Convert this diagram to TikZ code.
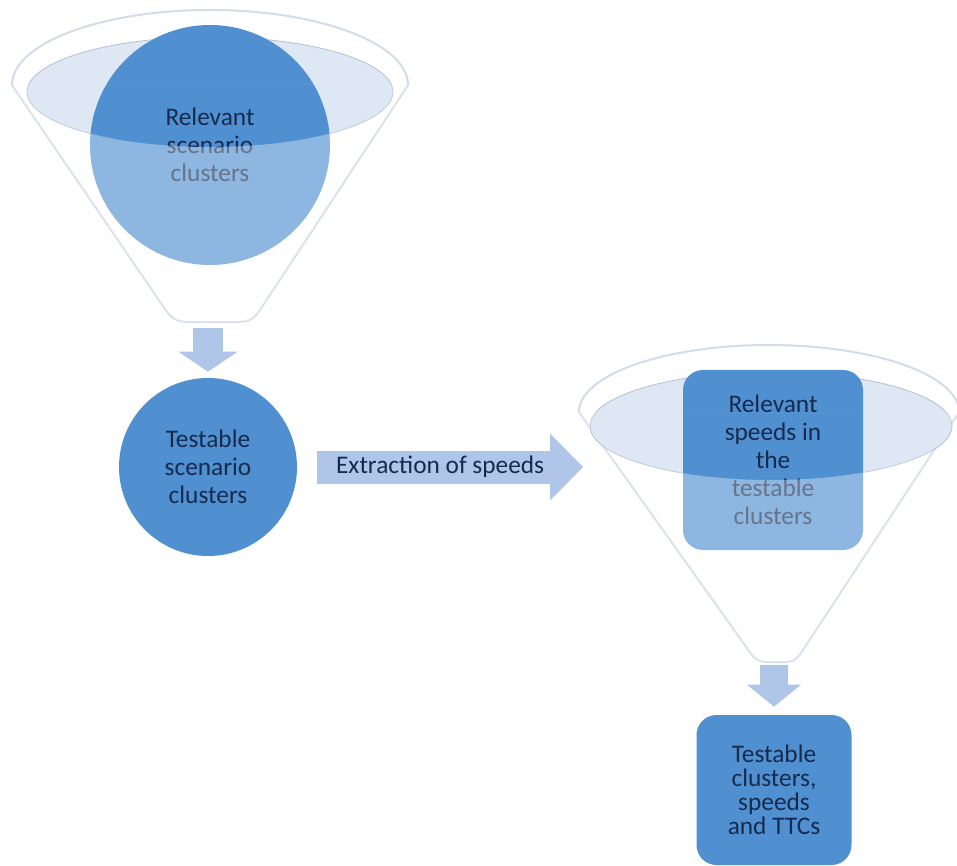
\documentclass[tikz,border=0pt]{standalone}
\usepackage{fontspec}
\setmainfont{Carlito}
\usetikzlibrary{arrows.meta}

\definecolor{clusterblue}{RGB}{80,144,208}
\definecolor{flowblue}{RGB}{176,198,232}
\definecolor{rimline}{RGB}{212,220,232}
\definecolor{mouthfill}{RGB}{222,232,245}
\definecolor{mouthline}{RGB}{180,192,210}
\definecolor{labeltext}{RGB}{22,42,78}

\begin{document}
\begin{tikzpicture}[
        x = 0.75pt, y = -0.75pt,
        stagebox/.style = {
            fill       = clusterblue,
            text       = labeltext,
            align      = center,
            inner sep  = 0pt,
            font       = \fontsize{19}{21}\selectfont
        },
        stagecircle/.style = {stagebox, circle},
        stagerect/.style   = {stagebox, rectangle, rounded corners = 15pt},
        funnelrim/.style   = {fill = white, draw = rimline, line width = 1.5pt},
        funnelmouth/.style = {fill = mouthfill, draw = mouthline, line width = 0.6pt},
        funnelveil/.style  = {fill = white, fill opacity = 0.35, even odd rule},
        flowdown/.style = {
            draw = flowblue, line width = 22.5pt,
            -{Triangle[length = 15pt, width = 44.25pt, line width = 0pt]}
        },
        flowright/.style = {
            draw = flowblue, line width = 24.75pt,
            -{Triangle[length = 24.75pt, width = 50.25pt, line width = 0pt]}
        }
    ]
    \useasboundingbox (0,0) rectangle (957,866);

    % first funnel
    \draw[funnelrim]
        (12,85) -- (159.9,301.4) .. controls (174,322) .. (199,322)
        -- (227,322) .. controls (252,322) .. (265.7,301.1) -- (408,85)
        .. controls (408,43.6) and (319.4,10) .. (210,10)
        .. controls (100.6,10) and (12,43.6) .. (12,85) -- cycle;
    \draw[funnelmouth] (210,92) ellipse [x radius = 183, y radius = 55];

    \node[stagecircle, minimum size = 180pt] (relA) at (210,145)
        {Relevant\\scenario\\clusters};

    \begin{scope}
        \clip (12,85) -- (159.9,301.4) .. controls (174,322) .. (199,322)
            -- (227,322) .. controls (252,322) .. (265.7,301.1) -- (408,85) -- cycle;
        \fill[funnelveil] (0,85) rectangle (420,330) (210,92) ellipse [x radius = 183, y radius = 55];
    \end{scope}

    % second funnel
    \draw[funnelrim]
        (579,412) -- (746,646.5) .. controls (757,662) .. (776,662)
        .. controls (795,662) .. (805.4,646.1) -- (959,412)
        .. controls (959,375) and (873.9,345) .. (769,345)
        .. controls (664.1,345) and (579,375) .. (579,412) -- cycle;
    \draw[funnelmouth] (771,426) ellipse [x radius = 181, y radius = 54];

    \node[stagerect, minimum width = 135pt, minimum height = 135pt] (relB) at (773,460)
        {Relevant\\speeds in\\the\\testable\\clusters};

    \begin{scope}
        \clip (579,412) -- (746,646.5) .. controls (757,662) .. (776,662)
            .. controls (795,662) .. (805.4,646.1) -- (959,412) -- cycle;
        \fill[funnelveil] (560,412) rectangle (965,670) (771,426) ellipse [x radius = 181, y radius = 54];
    \end{scope}

    \node[stagecircle, minimum size = 133.5pt] (testA) at (208,467)
        {Testable\\scenario\\clusters};
    \node[stagerect, minimum width = 116.25pt, minimum height = 112.5pt,
          font = \fontsize{19}{18}\selectfont] (testB) at (774,790)
        {Testable\\clusters,\\speeds\\and TTCs};

    \coordinate (funAout) at (208,328);
    \coordinate (funBout) at (774,665);
    \coordinate (funBin)  at (583,467);

    \draw[flowdown, shorten > = 4.5pt] (funAout) -- (testA);
    \draw[flowright, shorten < = 15pt] (testA) -- (funBin)
        node[midway, text = labeltext, font = \fontsize{19}{21}\selectfont] (extract) {Extraction of speeds};
    \draw[flowdown, line width = 21pt, shorten > = 6pt,
          -{Triangle[length = 16.5pt, width = 40.5pt, line width = 0pt]}] (funBout) -- (testB);
\end{tikzpicture}
\end{document}
